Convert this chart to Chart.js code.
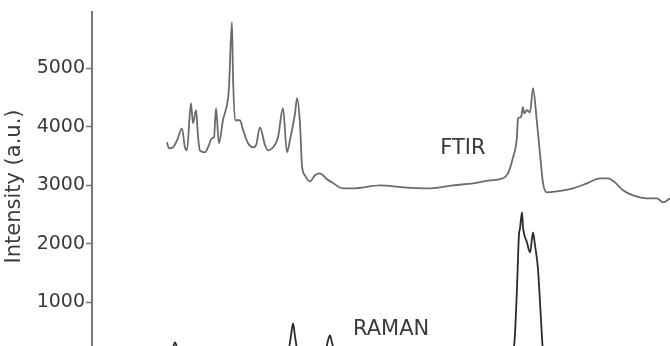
<!DOCTYPE html>
<html>
<head>
<meta charset="utf-8">
<script src="https://cdn.jsdelivr.net/npm/chart.js@4.4.1/dist/chart.umd.min.js"></script>
<style>
  html, body { margin: 0; padding: 0; background: #fff; overflow: hidden; }
  #wrap { width: 670px; height: 361px; }
</style>
</head>
<body>
<div id="wrap"><canvas id="spectra" width="670" height="361"></canvas></div>
<script>
// wavenumber (cm-1) / intensity
const ftirWavenumber = [
    970, 981, 1003, 1025, 1052, 1068, 1079, 1101, 1112, 1129, 1140, 1150, 1178, 1194,
    1216, 1227, 1238, 1254, 1276, 1304, 1309, 1325, 1331, 1342, 1369, 1386, 1413, 1440,
    1457, 1478, 1506, 1522, 1550, 1577, 1604, 1626, 1642, 1670, 1681, 1697, 1708, 1724,
    1752, 1779, 1806, 1845, 1872, 1932, 1987, 2135, 2260, 2408, 2534, 2643, 2736, 2807,
    2834, 2862, 2883, 2889, 2905, 2916, 2922, 2938, 2955, 2971, 2993, 3009, 3026, 3047,
    3102, 3190, 3266, 3337, 3381, 3419, 3463, 3518, 3594, 3649, 3682, 3720
];
const ftirIntensity = [
    3735, 3632, 3649, 3769, 3974, 3649, 3598, 4402, 4060, 4282, 3820, 3598, 3564, 3649,
    3803, 3820, 4316, 3718, 4111, 4487, 4675, 5786, 4846, 4111, 4111, 3940, 3718, 3649,
    3684, 3991, 3684, 3598, 3649, 3820, 4316, 3564, 3769, 4231, 4487, 4060, 3342, 3171,
    3068, 3171, 3205, 3103, 3051, 2949, 2949, 3000, 2966, 2949, 3000, 3034, 3085, 3120,
    3205, 3479, 3820, 4145, 4162, 4333, 4231, 4282, 4248, 4658, 4060, 3547, 3034, 2880,
    2897, 2949, 3034, 3120, 3120, 3051, 2915, 2829, 2778, 2778, 2709, 2778
];

const ramanWavenumber = [
    932, 997, 1014, 1030, 1068, 1424, 1631, 1648, 1659, 1670, 1686, 1834, 1850, 1861,
    1872, 1888, 2353, 2818, 2856, 2867, 2883, 2894, 2900, 2911, 2916, 2938, 2955, 2971,
    2982, 2998, 3015, 3026, 3053, 3337, 3665, 3720
];
const ramanIntensity = [
    100, 180, 316, 180, 120, 130, 150, 436, 641, 420, 150, 140, 350, 436,
    316, 140, 130, 150, 200, 250, 1205, 2145, 2265, 2538, 2299, 2026, 1855, 2196,
    1974, 1581, 692, 180, 120, 130, 120, 110
];

const yTickValues = [1000, 2000, 3000, 4000, 5000];

const traceLabels = [
    { text: 'FTIR', x: 2588, y: 3632 },
    { text: 'RAMAN', x: 2195, y: 538 }
];

const textColor = '#3a3a3a';
const font = '"DejaVu Sans", sans-serif';

const toPoints = (xs, ys) => xs.map((x, i) => ({ x: x, y: ys[i] }));

const traceLabelPlugin = {
    id: 'traceLabels',
    afterDatasetsDraw(chart) {
        const ctx = chart.ctx;
        const xs = chart.scales.x;
        const ys = chart.scales.y;
        ctx.save();
        ctx.font = '21px ' + font;
        ctx.fillStyle = textColor;
        ctx.textAlign = 'center';
        ctx.textBaseline = 'middle';
        traceLabels.forEach(l => {
            ctx.fillText(l.text, xs.getPixelForValue(l.x), ys.getPixelForValue(l.y));
        });
        ctx.restore();
    }
};

new Chart(
    document.getElementById('spectra'),
    {
        type: 'line',
        data: {
            datasets: [
                {
                    label: 'FTIR',
                    data: toPoints(ftirWavenumber, ftirIntensity),
                    borderColor: '#6b6b6b',
                    borderWidth: 1.8,
                    pointRadius: 0,
                    cubicInterpolationMode: 'monotone'
                },
                {
                    label: 'RAMAN',
                    data: toPoints(ramanWavenumber, ramanIntensity),
                    borderColor: '#2b2b2b',
                    borderWidth: 1.8,
                    pointRadius: 0,
                    cubicInterpolationMode: 'monotone'
                }
            ]
        },
        options: {
            responsive: false,
            animation: false,
            layout: {
                padding: { top: 12, left: 0, right: 0, bottom: 0 }
            },
            scales: {
                x: {
                    type: 'linear',
                    display: false,
                    min: 560,
                    max: 3720
                },
                y: {
                    min: 0,
                    max: 5960,
                    afterBuildTicks: (scale) => {
                        scale.ticks = yTickValues.map(v => ({ value: v }));
                    },
                    afterFit: (scale) => {
                        scale.width = 92;
                        scale.paddingTop = 0;
                        scale.paddingBottom = 0;
                    },
                    border: {
                        display: true,
                        color: '#777',
                        width: 2
                    },
                    grid: {
                        drawOnChartArea: false,
                        drawTicks: true,
                        tickLength: 6,
                        tickWidth: 1.5,
                        tickColor: '#777'
                    },
                    ticks: {
                        padding: 1,
                        color: textColor,
                        font: { family: font, size: 19 },
                        callback: (value) => String(value)
                    },
                    title: {
                        display: true,
                        text: 'Intensity (a.u.)',
                        color: textColor,
                        padding: { top: 2, bottom: 0 },
                        font: { family: font, size: 21 }
                    }
                }
            },
            plugins: {
                legend: { display: false },
                tooltip: { enabled: false }
            }
        },
        plugins: [traceLabelPlugin]
    }
);
</script>
</body>
</html>
